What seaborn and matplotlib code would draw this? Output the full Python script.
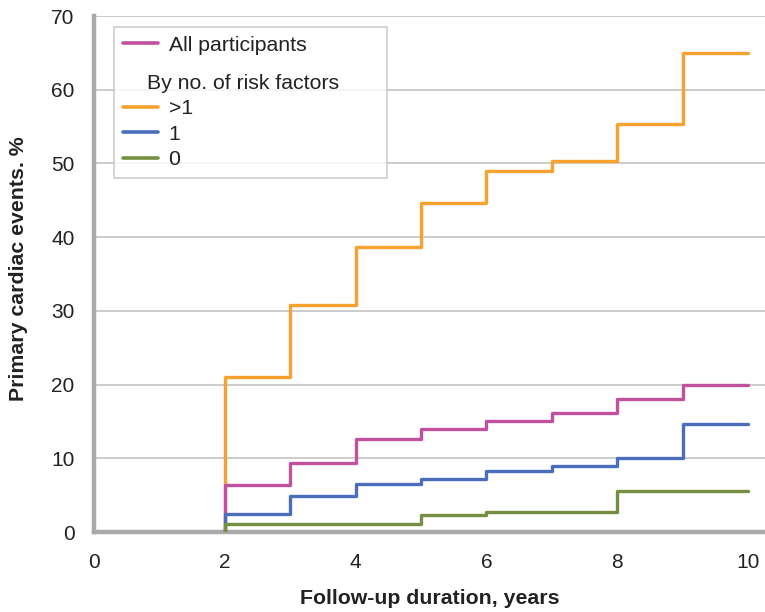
import matplotlib
matplotlib.use("Agg")
import matplotlib.pyplot as plt
from matplotlib.lines import Line2D
from matplotlib.offsetbox import DrawingArea
import seaborn as sns
import pandas as pd

years = [2, 3, 4, 5, 6, 7, 8, 9, 10]
all_participants = [6.4, 9.4, 12.6, 14.0, 15.1, 16.2, 18.0, 20.0, 20.0]
rf_gt1 = [21.0, 30.8, 38.7, 44.6, 49.0, 50.3, 55.3, 65.0, 65.0]
rf_1 = [2.4, 4.9, 6.5, 7.2, 8.3, 9.0, 10.1, 14.7, 14.7]
rf_0 = [1.1, 1.1, 1.1, 2.3, 2.7, 2.7, 5.6, 5.6, 5.6]

series_names = ["All participants", ">1", "1", "0"]
series_values = [all_participants, rf_gt1, rf_1, rf_0]
colors = {"All participants": "#C1509D", ">1": "#F7A12F", "1": "#4A6EBB", "0": "#758E40"}

rows = []
for name, vals in zip(series_names, series_values):
    rows.append({"series": name, "x": years[0], "y": 0.0})
    for xv, yv in zip(years, vals):
        rows.append({"series": name, "x": xv, "y": yv})
df = pd.DataFrame(rows)

sns.set_style("white")
plt.rcParams['font.family'] = ['Liberation Sans', 'DejaVu Sans']

fig = plt.figure(figsize=(7.65, 6.12), dpi=100)
ax = fig.add_axes([94/765, 80/612, (765-94)/765, 516/612])

for name in [">1", "All participants", "1", "0"]:
    sub = df[df.series == name]
    sns.lineplot(data=sub, x="x", y="y", color=colors[name], ax=ax,
                 drawstyle="steps-post", linewidth=2.4, estimator=None,
                 sort=False, legend=False, zorder=3)

ax.set_xlim(0, 10.26)
ax.set_ylim(0, 70)
ax.set_xticks([0, 2, 4, 6, 8, 10])
ax.set_yticks(range(0, 71, 10))
ax.yaxis.grid(True, color="#c8c8c8", linewidth=1.3)
ax.xaxis.grid(False)
ax.set_axisbelow(True)
for s in ["top", "right"]:
    ax.spines[s].set_visible(False)
for s in ["left", "bottom"]:
    ax.spines[s].set_color("#aaaaaa")
    ax.spines[s].set_linewidth(3.2)
    ax.spines[s].set_zorder(2)
ax.tick_params(axis="both", which="both", direction="out", color="#aaaaaa",
               labelsize=15, labelcolor="#222222", width=1.0)
ax.tick_params(axis="y", length=9, pad=5)
ax.tick_params(axis="x", length=10, pad=5)

label_font = dict(fontsize=15.3, fontweight="bold", color="#222222")
ax.set_xlabel("Follow-up duration, years", labelpad=12, **label_font)
ax.set_ylabel("Primary cardiac events. %", **label_font)
ax.yaxis.set_label_coords(-0.099, 0.51)

handles = [
    Line2D([], [], color=colors["All participants"], lw=2.6),
    Line2D([], [], color="none", lw=0),
    Line2D([], [], color=colors[">1"], lw=2.6),
    Line2D([], [], color=colors["1"], lw=2.6),
    Line2D([], [], color=colors["0"], lw=2.6),
]
labels = ["All participants", "By no. of risk factors   ", ">1", "1", "0"]
leg = ax.legend(handles, labels, loc="upper left", bbox_to_anchor=(20/671, 1 - 11/516),
                frameon=True, fancybox=False, edgecolor="#c0c0c0", fontsize=15.3,
                handlelength=1.65, handletextpad=0.5, labelspacing=0.3,
                borderpad=0.42, borderaxespad=0)
leg.get_frame().set_linewidth(1.2)
leg.get_texts()[1].set_position((-22, 0))
for t in leg.get_texts():
    t.set_color("#222222")
# extra vertical gap between first entry and the group header
try:
    col = leg._legend_handle_box.get_children()[0]
    col.get_children().insert(1, DrawingArea(1, 4.5))
except Exception:
    pass

fig.savefig("out.png", dpi=100)
